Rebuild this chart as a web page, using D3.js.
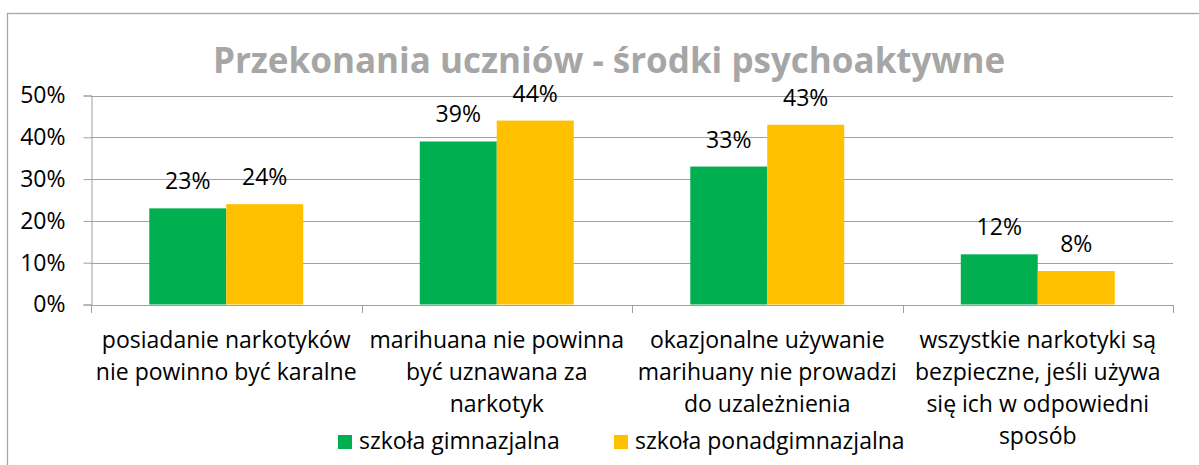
<!DOCTYPE html>
<html>
<head>
<meta charset="utf-8">
<script src="https://cdn.jsdelivr.net/npm/d3@7"></script>
<style>
	body { margin: 0; background: #fff; }
	text { font-family: "Open Sans", sans-serif; }
</style>
</head>
<body>
<script>
// chart data
var categories = [
	['posiadanie narkotyków', 'nie powinno być karalne'],
	['marihuana nie powinna', 'być uznawana za', 'narkotyk'],
	['okazjonalne używanie', 'marihuany nie prowadzi', 'do uzależnienia'],
	['wszystkie narkotyki są', 'bezpieczne, jeśli używa', 'się ich w odpowiedni', 'sposób']
];
var seriesNames = ['szkoła gimnazjalna', 'szkoła ponadgimnazjalna'];
var gimnazjum = [23, 39, 33, 12];
var ponadgimnazjum = [24, 44, 43, 8];
var yTicks = [0, 10, 20, 30, 40, 50];
var title = 'Przekonania uczniów - środki psychoaktywne';

var colors = ['#00b050', '#ffc000'];
var width = 1199, height = 465;
var fontSize = 23;

var svg = d3.select('body').append('svg')
	.attr('width', width)
	.attr('height', height);

// chart area border (runs off the right and bottom edge)
svg.append('rect')
	.attr('x', 7.5).attr('y', 13.5)
	.attr('width', 1300).attr('height', 600)
	.attr('fill', 'none')
	.attr('stroke', '#a6a6a6')
	.attr('stroke-width', 1.3);

// title
svg.append('text')
	.attr('x', 609).attr('y', 73)
	.attr('text-anchor', 'middle')
	.attr('font-size', 35)
	.attr('font-weight', 'bold')
	.attr('fill', '#a6a6a6')
	.text(title);

var plotLeft = 91, plotRight = 1173, plotTop = 95.5, plotBottom = 304.5;

var y = d3.scaleLinear().domain([0, 50]).range([plotBottom, plotTop]);
var x0 = d3.scaleBand().domain(d3.range(categories.length)).range([plotLeft, plotRight]);
var x1 = d3.scaleBand().domain([0, 1]).range([0, x0.bandwidth()]).paddingOuter(0.757);

// gridlines
svg.append('g').selectAll('line')
	.data(yTicks.slice(1))
	.join('line')
	.attr('x1', plotLeft).attr('x2', plotRight)
	.attr('y1', function(d) { return Math.round(y(d)) + 0.5; })
	.attr('y2', function(d) { return Math.round(y(d)) + 0.5; })
	.attr('stroke', '#a0a0a0');

// y axis
var yAxis = d3.axisLeft(y)
	.tickValues(yTicks)
	.tickFormat(function(d) { return d + '%'; })
	.tickSize(8)
	.tickPadding(18);

var gy = svg.append('g')
	.attr('transform', 'translate(' + (plotLeft + 0.5) + ',0)')
	.call(yAxis);
gy.select('.domain').attr('stroke', '#a0a0a0');
gy.selectAll('.tick line').attr('stroke', '#a0a0a0');
gy.selectAll('.tick text')
	.attr('font-size', fontSize)
	.attr('fill', '#000')
	.style('font-family', '"Open Sans", sans-serif');

// x axis line with category separators
var xAxis = d3.axisBottom(x0).tickSize(0).tickFormat('');
var gx = svg.append('g')
	.attr('transform', 'translate(0,' + (plotBottom + 0.5) + ')')
	.call(xAxis);
gx.select('.domain').attr('stroke', '#a0a0a0');
gx.append('g').selectAll('line')
	.data(d3.range(categories.length + 1))
	.join('line')
	.attr('x1', function(d) { return Math.round(plotLeft + d * x0.step()) + 0.5; })
	.attr('x2', function(d) { return Math.round(plotLeft + d * x0.step()) + 0.5; })
	.attr('y1', 0).attr('y2', 8)
	.attr('stroke', '#a0a0a0');

// bars
var groups = svg.append('g').selectAll('g')
	.data(categories.map(function(c, i) { return [gimnazjum[i], ponadgimnazjum[i]]; }))
	.join('g')
	.attr('transform', function(d, i) { return 'translate(' + x0(i) + ',0)'; });

groups.selectAll('rect')
	.data(function(d) { return d; })
	.join('rect')
	.attr('x', function(d, j) { return x1(j); })
	.attr('width', x1.bandwidth())
	.attr('y', function(d) { return y(d); })
	.attr('height', function(d) { return y(0) - y(d); })
	.attr('fill', function(d, j) { return colors[j]; });

// value labels
groups.selectAll('text')
	.data(function(d) { return d; })
	.join('text')
	.attr('x', function(d, j) { return x1(j) + x1.bandwidth() / 2; })
	.attr('y', function(d) { return y(d) - 19; })
	.attr('text-anchor', 'middle')
	.attr('font-size', fontSize)
	.text(function(d) { return d + '%'; });

// category labels
svg.append('g').selectAll('text')
	.data(categories)
	.join('text')
	.attr('x', function(d, i) { return x0(i) + x0.bandwidth() / 2; })
	.attr('y', 348)
	.attr('text-anchor', 'middle')
	.attr('font-size', fontSize)
	.selectAll('tspan')
	.data(function(d) { return d; })
	.join('tspan')
	.attr('x', function() { return this.parentNode.getAttribute('x'); })
	.attr('dy', function(d, k) { return k ? 32 : 0; })
	.text(function(d) { return d; });

// legend
var legendX = [338, 614];
var legend = svg.append('g').selectAll('g')
	.data(seriesNames)
	.join('g')
	.attr('transform', function(d, i) { return 'translate(' + legendX[i] + ',435)'; });
legend.append('rect')
	.attr('width', 14).attr('height', 14)
	.attr('fill', function(d, i) { return colors[i]; });
legend.append('text')
	.attr('x', 21).attr('y', 14)
	.attr('font-size', fontSize)
	.text(function(d) { return d; });
</script>
</body>
</html>
